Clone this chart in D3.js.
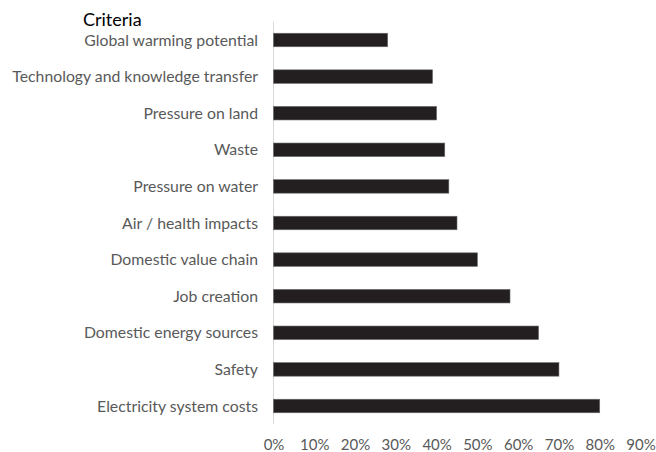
<!DOCTYPE html>
<html><head><meta charset="utf-8">
<script src="https://cdn.jsdelivr.net/npm/d3@7"></script>
<style>body{margin:0;background:#fff;}svg{display:block;}</style>
</head><body>
<script>
const categories = ["Global warming potential","Technology and knowledge transfer","Pressure on land","Waste","Pressure on water","Air / health impacts","Domestic value chain","Job creation","Domestic energy sources","Safety","Electricity system costs"];
const values = [28,39,40,42,43,45,50,58,65,70,80];
const tickValues = [0,10,20,30,40,50,60,70,80,90];

const W=656,H=452;
const svg=d3.select("body").append("svg").attr("width",W).attr("height",H);
const x=d3.scaleLinear().domain([0,90]).range([273.5,640.5]);
const y=d3.scaleBand().domain(categories).range([21.7,424.3]).paddingInner(0.63).paddingOuter(0.315);
const font="Lato, 'Open Sans', sans-serif";

svg.append("line").attr("x1",273.5).attr("x2",273.5).attr("y1",21.7).attr("y2",424.3)
  .attr("stroke","#d9d9d9").attr("stroke-width",1);

svg.selectAll("rect.bar").data(categories).enter().append("rect").attr("class","bar")
  .attr("x",x(0)).attr("y",d=>y(d)).attr("height",y.bandwidth())
  .attr("width",(d,i)=>x(values[i])-x(0))
  .attr("fill","#231f20").attr("stroke","#6b6b6b").attr("stroke-width",0.6);

svg.selectAll("text.cat").data(categories).enter().append("text").attr("class","cat")
  .attr("x",258).attr("y",d=>y(d)+y.bandwidth()/2).attr("dy","0.35em")
  .attr("text-anchor","end").attr("font-family",font).attr("font-size",15.8).attr("fill","#595959")
  .text(d=>d);

const xAxis=d3.axisBottom(x).tickValues(tickValues).tickFormat(d=>d+"%").tickSize(0).tickPadding(0);
const g=svg.append("g").attr("transform","translate(0,439)").call(xAxis);
g.select(".domain").remove();
g.selectAll("text").attr("dy","0.72em").attr("font-family",font).attr("font-size",15).attr("fill","#595959");

svg.append("text").attr("x",83).attr("y",26).attr("font-family",font).attr("font-size",18)
  .attr("fill","#000").text("Criteria");
</script>
</body></html>
